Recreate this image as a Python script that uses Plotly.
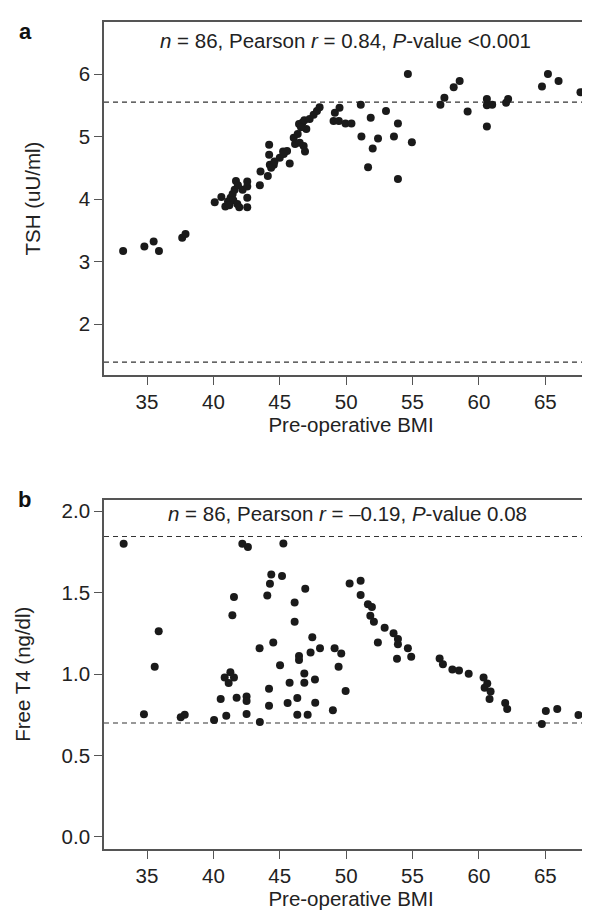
import plotly.graph_objects as go

# Panel a: pre-operative BMI vs TSH
bmi_a = [33.2, 34.8, 35.5, 35.9, 37.65, 37.9,
         40.1, 40.6, 40.9, 41.1, 41.3, 41.45, 41.6, 41.7, 41.5, 41.8, 41.95, 42.2, 42.55, 42.55,
         42.55, 42.55, 41.2, 43.5, 43.55, 44.1, 44.2, 44.2, 44.25, 44.55, 44.35, 45.0, 45.25, 45.55,
         45.75, 46.05, 46.15, 46.35, 46.5, 46.45, 46.9, 46.7, 46.85, 47.0, 47.25, 47.55, 47.8, 48.0,
         46.8, 49.05, 49.15, 49.5, 49.45, 49.95, 50.4, 51.1, 51.15, 51.65, 51.85, 52.0, 52.4, 53.0,
         53.6, 53.9, 53.9, 54.65, 54.95, 57.1, 57.4, 58.1, 58.55, 59.15, 60.6, 60.6, 60.6, 61.0,
         62.05, 62.2, 64.75, 65.2, 66.0, 67.65, 41.85, 45.3, 46.6, 44.6]
tsh = [3.17, 3.24, 3.32, 3.17, 3.38, 3.44,
       3.95, 4.03, 3.88, 3.96, 4.02, 4.08, 4.15, 4.29, 3.98, 3.92, 3.87, 4.15, 4.20, 4.28,
       4.02, 3.87, 3.90, 4.22, 4.44, 4.37, 4.87, 4.71, 4.55, 4.55, 4.50, 4.66, 4.76, 4.77,
       4.57, 4.98, 4.88, 5.04, 4.90, 5.20, 4.76, 5.22, 5.26, 5.12, 5.28, 5.35, 5.41, 5.47,
       4.85, 5.25, 5.38, 5.46, 5.25, 5.21, 5.21, 5.51, 5.00, 4.51, 5.30, 4.81, 4.97, 5.41,
       5.00, 5.21, 4.32, 6.00, 4.91, 5.51, 5.62, 5.79, 5.89, 5.40, 5.50, 5.60, 5.16, 5.51,
       5.54, 5.60, 5.80, 6.00, 5.89, 5.71, 4.22, 4.72, 5.15, 4.60]

# Panel b: pre-operative BMI vs free T4
bmi_b = [33.24, 35.88, 35.58, 41.43, 41.55, 42.18, 42.6, 43.48, 44.06, 44.26, 44.36, 44.51, 45.17,
         45.27, 45.02, 46.12, 46.12, 46.45, 46.45, 46.92, 47.32, 47.45, 48.03, 49.13, 49.63, 49.43,
         50.26, 51.09, 51.09, 51.64, 51.94, 51.82, 52.09, 52.39, 52.9, 53.57, 53.9, 53.9, 53.83,
         54.65, 54.9, 57.04, 57.29, 34.77, 37.54, 37.84, 40.05, 40.55, 40.97, 40.85, 41.28, 41.15,
         41.55, 41.75, 42.5, 42.5, 42.5, 43.5, 44.19, 44.19, 45.59, 45.74, 46.32, 46.32, 46.85,
         46.85, 47.1, 47.65, 47.67, 49.0, 49.96, 58.0, 58.5, 59.23, 60.35, 60.63, 60.43, 60.88,
         60.8, 61.98, 62.13, 64.74, 65.04, 65.9, 67.5]
ft4 = [1.80, 1.263, 1.045, 1.361, 1.473, 1.80, 1.78, 1.159, 1.482, 1.555, 1.612, 1.194, 1.602,
       1.802, 1.055, 1.439, 1.322, 1.112, 1.086, 1.524, 1.133, 1.227, 1.159, 1.159, 1.127, 1.045,
       1.557, 1.573, 1.486, 1.429, 1.412, 1.359, 1.322, 1.194, 1.284, 1.251, 1.216, 1.184, 1.094,
       1.159, 1.106, 1.096, 1.061, 0.753, 0.735, 0.751, 0.718, 0.847, 0.745, 0.98, 1.012, 0.945,
       0.98, 0.855, 0.863, 0.835, 0.755, 0.706, 0.91, 0.806, 0.822, 0.947, 0.853, 0.751, 1.004,
       0.947, 0.751, 0.967, 0.824, 0.778, 0.896, 1.029, 1.022, 1.002, 0.98, 0.943, 0.916, 0.894,
       0.847, 0.822, 0.786, 0.694, 0.773, 0.786, 0.749]

tsh_limits = [5.55, 1.39]
ft4_limits = [1.845, 0.70]
x_ticks = [35, 40, 45, 50, 55, 60, 65]
tsh_ticks = [2, 3, 4, 5, 6]
ft4_ticks = [0.0, 0.5, 1.0, 1.5, 2.0]

W, H = 590, 912
FONT = "Liberation Sans, Arial, Helvetica, sans-serif"
FS = 20.5
TXT = "#222222"
AX = "#555555"
x_range = [31.76, 68.97]

fig = go.Figure()
mk = dict(size=8, color="#1a1a1a", line=dict(width=0))
fig.add_trace(go.Scatter(x=bmi_a, y=tsh, mode="markers", marker=mk, xaxis="x", yaxis="y", showlegend=False))
fig.add_trace(go.Scatter(x=bmi_b, y=ft4, mode="markers", marker=mk, xaxis="x2", yaxis="y2", showlegend=False))

for v in tsh_limits:
    fig.add_shape(type="line", xref="x domain", yref="y", x0=0, x1=1, y0=v, y1=v,
                  line=dict(color="#333333", width=1.2, dash="5px,4px"), layer="below")
for v in ft4_limits:
    fig.add_shape(type="line", xref="x2 domain", yref="y2", x0=0, x1=1, y0=v, y1=v,
                  line=dict(color="#333333", width=1.2, dash="5px,4px"), layer="below")

def ydom(top, bot):
    return [1 - bot / H, 1 - top / H]

xdom = [96 / W, 1.0]
common_x = dict(range=x_range, tickvals=x_ticks, ticks="outside", ticklen=8, tickwidth=1.3,
                tickcolor=AX, showline=True, linecolor=AX, linewidth=1.6, mirror=True,
                showgrid=False, zeroline=False, tickfont=dict(family=FONT, size=FS, color=TXT),
                title=dict(text="Pre-operative BMI", font=dict(family=FONT, size=FS, color=TXT), standoff=5))
common_y = dict(ticks="outside", ticklen=8, tickwidth=1.3, tickcolor=AX, showline=True,
                linecolor=AX, linewidth=1.6, showgrid=False, zeroline=False,
                tickfont=dict(family=FONT, size=FS, color=TXT))

fig.update_layout(
    width=W, height=H, margin=dict(l=0, r=0, t=0, b=0),
    paper_bgcolor="white", plot_bgcolor="white",
    xaxis=dict(domain=xdom, anchor="y", **common_x),
    yaxis=dict(domain=ydom(14, 367), anchor="x", range=[1.184, 6.832], tickvals=tsh_ticks,
               title=dict(text="TSH (uU/ml)", font=dict(family=FONT, size=FS, color=TXT), standoff=33),
               **common_y),
    xaxis2=dict(domain=xdom, anchor="y2", **common_x),
    yaxis2=dict(domain=ydom(491.7, 840.7), anchor="x2", range=[-0.072, 2.071], tickvals=ft4_ticks,
                tickformat=".1f",
                title=dict(text="Free T4 (ng/dl)", font=dict(family=FONT, size=FS, color=TXT), standoff=25),
                **common_y),
)

ann_font = dict(family=FONT, size=FS, color=TXT)
fig.add_annotation(xref="paper", yref="paper", x=337 / W, y=1 - 32 / H, showarrow=False,
                   text="<i>n</i> = 86, Pearson <i>r</i> = 0.84, <i>P</i>-value <0.001",
                   font=ann_font, xanchor="center", yanchor="middle")
fig.add_annotation(xref="paper", yref="paper", x=339 / W, y=1 - 505 / H, showarrow=False,
                   text="<i>n</i> = 86, Pearson <i>r</i> = \u20130.19, <i>P</i>-value 0.08",
                   font=ann_font, xanchor="center", yanchor="middle")
fig.add_annotation(xref="paper", yref="paper", x=17 / W, y=1 - 24 / H, showarrow=False,
                   text="<b>a</b>", font=dict(family=FONT, size=22, color="#111111"),
                   xanchor="center", yanchor="middle")
fig.add_annotation(xref="paper", yref="paper", x=16 / W, y=1 - 491 / H, showarrow=False,
                   text="<b>b</b>", font=dict(family=FONT, size=22, color="#111111"),
                   xanchor="center", yanchor="middle")

fig.write_html("out.html")
